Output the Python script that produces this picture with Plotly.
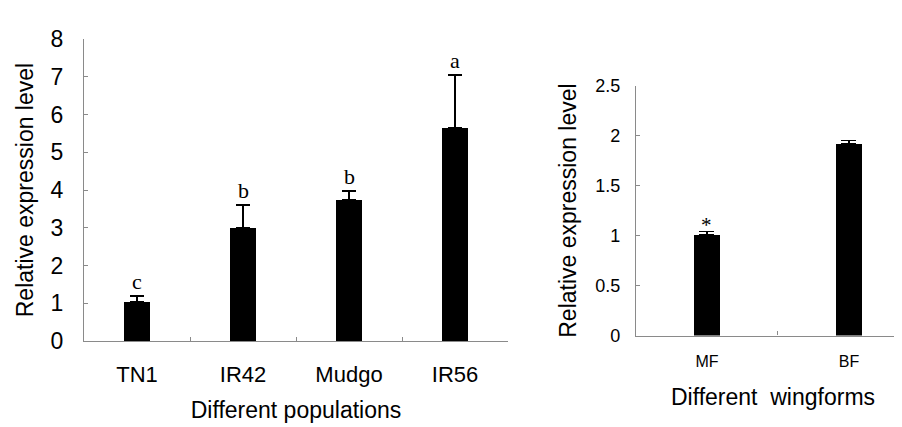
import plotly.graph_objects as go

# Left panel data
pop_categories = ["TN1", "IR42", "Mudgo", "IR56"]
pop_values = [1.04, 2.99, 3.73, 5.64]
pop_errors = [0.16, 0.62, 0.24, 1.41]
pop_letters = ["c", "b", "b", "a"]
pop_yticks = [0, 1, 2, 3, 4, 5, 6, 7, 8]

# Right panel data
wing_categories = ["MF", "BF"]
wing_values = [1.01, 1.92]
wing_errors = [0.03, 0.03]
wing_marks = ["*", ""]
wing_yticks = [0, 0.5, 1, 1.5, 2, 2.5]
wing_yticklabels = ["0", "0.5", "1", "1.5", "2", "2.5"]

W, H = 902, 427
AX = "#8a8a8a"
SANS = "Liberation Sans, Arial, sans-serif"
SERIF = "Liberation Serif, Times New Roman, serif"

fig = go.Figure()
fig.add_trace(go.Bar(
    x=pop_categories, y=pop_values, width=0.245,
    marker=dict(color="black", line=dict(width=0)),
    error_y=dict(type="data", symmetric=False, array=pop_errors,
                 arrayminus=[0] * len(pop_errors),
                 color="black", thickness=1.6, width=7),
    xaxis="x", yaxis="y", showlegend=False,
))
fig.add_trace(go.Bar(
    x=wing_categories, y=wing_values, width=0.188,
    marker=dict(color="black", line=dict(width=0)),
    error_y=dict(type="data", symmetric=False, array=wing_errors,
                 arrayminus=[0] * len(wing_errors),
                 color="black", thickness=1.6, width=7.5),
    xaxis="x2", yaxis="y2", showlegend=False,
))

annotations = []
for c, v, e, t in zip(pop_categories, pop_values, pop_errors, pop_letters):
    annotations.append(dict(x=c, y=v + e, xref="x", yref="y", text=t,
                            showarrow=False, yanchor="bottom", yshift=0,
                            font=dict(family=SERIF, size=22, color="black")))
for c, v, e, t in zip(wing_categories, wing_values, wing_errors, wing_marks):
    if t:
        annotations.append(dict(x=c, y=v + e, xref="x2", yref="y2", text=t,
                                showarrow=False, yanchor="middle", yshift=7,
                                font=dict(family=SERIF, size=21, color="black")))

axis_common = dict(showline=True, linecolor=AX, linewidth=1.3, ticks="inside",
                   tickcolor=AX, ticklen=4, tickwidth=1.2, showgrid=False,
                   zeroline=False, fixedrange=True)

fig.update_layout(
    width=W, height=H,
    margin=dict(l=0, r=0, t=0, b=0),
    paper_bgcolor="white", plot_bgcolor="white",
    bargap=0,
    annotations=annotations,
    xaxis=dict(domain=[76 / W, 500 / W], range=[-0.5, 3.5], type="category",
               tickson="boundaries", anchor="y",
               tickfont=dict(family=SANS, size=22, color="black"),
               ticklabelstandoff=13,
               title=dict(text="Different populations", standoff=16,
                          font=dict(family=SANS, size=23, color="black")),
               **axis_common),
    yaxis=dict(domain=[(H - 341) / H, (H - 19) / H], range=[0, 8],
               tickvals=pop_yticks, anchor="x",
               tickfont=dict(family=SANS, size=23, color="black"),
               ticklabelstandoff=15,
               title=dict(text="Relative expression level", standoff=10,
                          font=dict(family=SANS, size=23, color="black")),
               **axis_common),
    xaxis2=dict(domain=[628 / W, 1.0], range=[-0.5, 1.43], type="category",
                tickson="boundaries", anchor="y2",
                tickfont=dict(family=SANS, size=16, color="black"),
                ticklabelstandoff=11,
                title=dict(text="Different\u00a0 wingforms", standoff=19,
                           font=dict(family=SANS, size=23, color="black")),
                **axis_common),
    yaxis2=dict(domain=[(H - 335) / H, (H - 68.7) / H], range=[0, 2.5],
                tickvals=wing_yticks, ticktext=wing_yticklabels, anchor="x2",
                tickfont=dict(family=SANS, size=18, color="black"),
                ticklabelstandoff=11,
                title=dict(text="Relative expression level", standoff=12,
                           font=dict(family=SANS, size=23, color="black")),
                **axis_common),
)

fig.write_html("out.html")
